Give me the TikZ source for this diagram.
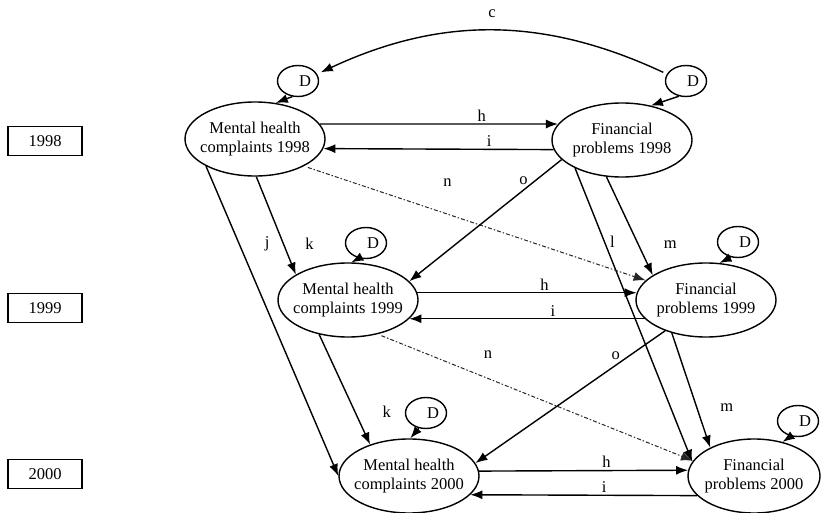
\documentclass[tikz,border=0pt]{standalone}
\usepackage{fontspec}
\setmainfont{Liberation Serif}
\usetikzlibrary{shapes.geometric, arrows.meta}
\tikzset{
	construct/.style={ellipse, draw, line width=1.4pt, inner xsep=-6pt, inner ysep=0pt, minimum width=140pt, minimum height=74pt, align=center},
	residual/.style={ellipse, draw, line width=1.4pt, inner sep=0pt, minimum width=41pt, minimum height=31pt},
	wave/.style={rectangle, draw, line width=1.3pt, minimum width=74pt, minimum height=29pt},
	effect/.style={line width=1.4pt, -{Latex[length=12pt, width=9pt]}},
	crosseffect/.style={line width=1pt, black!85, dash pattern=on 4pt off 2pt on 1.5pt off 2pt, shorten <=4pt, -{Latex[length=12pt, width=9pt]}},
}
\begin{document}
\begin{tikzpicture}[x=1pt, y=-1pt, font=\fontsize{16.5}{19.5}\selectfont]
\useasboundingbox (0,0) rectangle (822,513);

% waves
\node[wave] (w98) at (45,141) {1998};
\node[wave] (w99) at (45,308) {1999};
\node[wave] (w00) at (45,474) {2000};

% constructs
\node[construct] (mh98) at (255,139) {Mental health\\complaints 1998};
\node[construct] (fp98) at (622,140) {Financial\\problems 1998};
\node[construct] (mh99) at (348,300) {Mental health\\complaints 1999};
\node[construct] (fp99) at (706,300) {Financial\\problems 1999};
\node[construct] (mh00) at (409,476) {Mental health\\complaints 2000};
\node[construct, minimum width=132pt] (fp00) at (754,476) {Financial\\problems 2000};

% disturbances
\node[residual] (d98m) at (298,81) {\hspace*{14pt}D};
\node[residual] (d98f) at (686,81) {\hspace*{14pt}D};
\node[residual] (d99m) at (366,243) {\hspace*{14pt}D};
\node[residual] (d99f) at (738,242) {\hspace*{14pt}D};
\node[residual] (d00m) at (426,413) {\hspace*{14pt}D};
\node[residual] (d00f) at (798,421) {\hspace*{14pt}D};

\draw[effect] (d98m.-110) -- (mh98.60);
\draw[effect] (d98f.-115) -- (fp98.50);
\draw[effect] (d99m.-115) -- (mh99.85);
\draw[effect] (d99f.-115) -- (fp99.70);
\draw[effect] (d00m.-115) -- (mh00.88);
\draw[effect] (d00f.-115) -- (fp00.50);

\draw[effect, {Latex[length=12pt, width=9pt]}-, shorten <=4pt, shorten >=4pt] (d98m.20) to[bend left=25] node[midway, above=9pt]{c} (d98f.160);

% synchronous paths
\draw[effect] (mh98.13) -- node[pos=0.68, above, inner sep=2pt]{h} (fp98.166);
\draw[effect] (fp98.-172) -- node[pos=0.28, above, inner sep=2pt]{i} (mh98.-8);
\draw[effect] (mh99.6) -- node[pos=0.58, above, inner sep=2pt]{h} (fp99.174);
\draw[effect] (fp99.-163) -- node[pos=0.39, above, inner sep=2pt]{i} (mh99.-17);
\draw[effect] (mh00.4) -- node[pos=0.61, above, inner sep=2pt]{h} (fp00.175);
\draw[effect] (fp00.-161) -- node[pos=0.41, above, inner sep=2pt]{i} (mh00.-17);

% lagged paths
\draw[effect] (mh98.-151) -- node[pos=0.25, xshift=28pt]{j} (mh00.180);
\draw[effect] (mh98.-88) -- node[pos=0.69, xshift=26pt]{k} (mh99.154);
\draw[effect] (mh99.-130) -- node[pos=0.7, xshift=32pt]{k} (mh00.141);
\draw[effect] (fp98.-149) -- node[pos=0.25, xshift=8pt]{l} (fp00.167);
\draw[effect] (fp98.-113) -- node[pos=0.69, xshift=32pt]{m} (fp99.155);
\draw[effect] (fp99.-136) -- node[pos=0.65, xshift=30pt]{m} (fp00.147);
\draw[crosseffect] (mh98.-29) -- node[pos=0.42, yshift=32pt, black]{n} (fp99.162);
\draw[effect] (fp98.-162) -- node[pos=0.25, yshift=9pt]{o} (mh99.17);
\draw[crosseffect] (mh99.-49) -- node[pos=0.35, yshift=24pt, black]{n} (fp00.166);
\draw[effect] (fp99.-143) -- node[pos=0.26, yshift=9pt]{o} (mh00.11);
\end{tikzpicture}
\end{document}
